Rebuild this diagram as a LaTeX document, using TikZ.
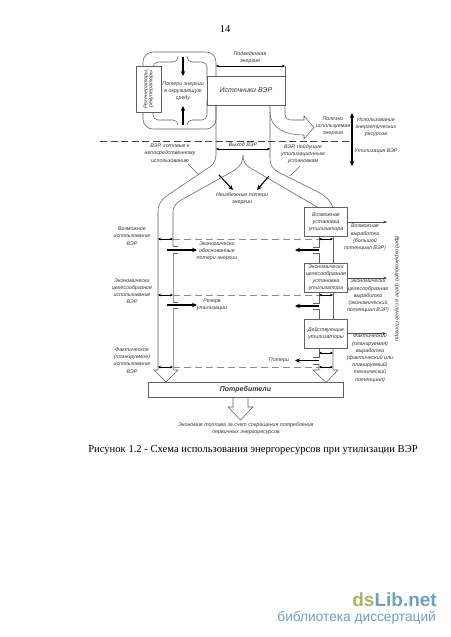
\documentclass[tikz,border=0pt]{standalone}
\usepackage{fontspec}
\setmainfont{Liberation Sans}
\newfontfamily\serifcap{Liberation Serif}
\usetikzlibrary{arrows.meta}
\definecolor{wmblue}{HTML}{6C9FC2}
\definecolor{wmgreen}{HTML}{A6B65C}
\tikzset{
  ln/.style={draw=black!62,line width=.55pt},
  grayln/.style={draw=black!40,line width=.8pt},
  dashlevel/.style={draw=black!45,line width=.6pt,dash pattern=on 7pt off 4pt},
  dashtop/.style={draw=black!75,line width=.6pt,dash pattern=on 7pt off 3.5pt},
  thickarrow/.style={draw=black,line width=1.1pt,-{Stealth[length=5pt,width=4.5pt]}},
  twoway/.style={draw=black,line width=.45pt,{Stealth[length=3pt,width=2.6pt]}-{Stealth[length=3pt,width=2.6pt]}},
  oneway/.style={draw=black!70,line width=.5pt,-{Stealth[length=3.5pt,width=3pt]}},
  lab/.style={font=\fontsize{5.3}{7.2}\selectfont\itshape,text=black!80,align=center,inner sep=0pt},
  boxn/.style={draw=black!62,fill=white,line width=.6pt,inner sep=0pt,outer sep=0pt,align=center,font=\fontsize{5.3}{7.2}\selectfont\itshape,text=black!80},
}
\begin{document}
\begin{tikzpicture}[x=1pt,y=-1pt]
\useasboundingbox (0,0) rectangle (450,637);
% named points
\coordinate (dl) at (100,141);
\coordinate (vtop) at (352,113);
\coordinate (vbot) at (352,166);
\coordinate (dr) at (352,141);
\coordinate (la) at (158,239);
\coordinate (lb) at (173,239);
\coordinate (lc) at (158,295);
\coordinate (ld) at (173,295);
\coordinate (le) at (158,367);
\coordinate (lf) at (173,367);
\coordinate (ra) at (319,239);
\coordinate (rb) at (333,239);
\coordinate (rc) at (319,295);
\coordinate (rd) at (333,295);
\coordinate (re) at (319,367);
\coordinate (rf) at (333,367);
\coordinate (rg) at (319,353);
\coordinate (rh) at (333,353);
% Outer and inner loops
\draw[ln,rounded corners=10pt] (216,76) -- (216,52) -- (143,52) -- (143,129) -- (216,129) -- (216,105);
\draw[ln,rounded corners=5pt] (178,56) -- (178,62) -- (153,62) -- (153,80);
\draw[ln,rounded corners=5pt] (187,56) -- (187,62) -- (207,62) -- (207,80);
\draw[ln,rounded corners=5pt] (178,125) -- (178,120) -- (153,120) -- (153,100);
\draw[ln,rounded corners=5pt] (187,125) -- (187,120) -- (207,120) -- (207,100);
% Boxes
\node[boxn,minimum width=78pt,minimum height=29pt,font=\fontsize{7}{8}\selectfont\itshape] (src) at (246,90.5) {Источники ВЭР};
\node[boxn,minimum width=25pt,minimum height=46pt] (reg) at (148.5,89) {\rotatebox{90}{\begin{tabular}{@{}c@{}}Регенераторы,\\[-2.2pt]рекуператоры\end{tabular}}};
\node[boxn,minimum width=43pt,minimum height=29pt] (box1) at (326,222) {Возможная\\установка\\утилизатора};
\node[boxn,minimum width=43pt,minimum height=29pt] (box2) at (326,277.5) {Экономически\\целесообразная\\установка\\утилизатора};
\node[boxn,minimum width=43pt,minimum height=29pt] (box3) at (326,333.5) {Действующие\\утилизаторы};
\node[boxn,minimum width=195pt,minimum height=15pt,font=\fontsize{7}{8}\selectfont\bfseries\itshape] (cons) at (245.5,389.5) {Потребители};
% loss arrows
\coordinate (a1) at (183,57); \coordinate (a2) at (183,76);
\coordinate (a3) at (183,125); \coordinate (a4) at (183,106);
\draw[thickarrow] (a1) -- (a2);
\draw[thickarrow] (a3) -- (a4);
% supplied energy
\coordinate (s1) at (216,66); \coordinate (s2) at (285,66);
\draw[twoway] (s1) -- (s2);
\draw[ln] (s2) -- (285,76);
% useful energy hollow arrow
\draw[ln] (285,105) -- (285,114) .. controls (285,119) and (288,120) .. (292,120) -- (304,120) -- (304,116) -- (314,127.5) -- (304,139) -- (304,135)
   .. controls (285,135) and (270,128) .. (270,112);
% main trunks
\draw[ln] (216,105) -- (216,155) .. controls (216,162) and (212,166) .. (205,170) -- (168,195) .. controls (161,200) and (158,204) .. (158,212) -- (158,370) -- (154,370) -- (166,382) -- (178,370) -- (173,370);
\draw[ln] (270,105) -- (270,158) .. controls (270,165) and (272,169) .. (280,173) -- (320,193) .. controls (327,197) and (331,202) .. (333,207.5);
\draw[ln] (243,155) .. controls (243,162) and (241,165) .. (235,170) -- (183,199) .. controls (176,203) and (173,206) .. (173,212) -- (173,246.5);
\draw[ln] (243,155) .. controls (243,162) and (245,165) .. (252,169) -- (318,207.5);
\draw[grayln] (173,253.5) -- (173,302.5);
\draw[grayln] (173,308.5) -- (173,370);
\draw[ln] (173,246.5) -- (178,246.5);
\draw[ln] (173,253.5) -- (178,253.5);
\draw[ln] (173,302.5) -- (178,302.5);
\draw[ln] (173,308.5) -- (178,308.5);
% leaders
\coordinate (k1) at (188,164); \coordinate (k2) at (199,175);
\coordinate (k3) at (290,176); \coordinate (k4) at (300,166);
\draw[ln] (k1) -- (k2);
\draw[ln] (k3) -- (k4);
% output of WER
\coordinate (v1) at (216,149); \coordinate (v2) at (270,149);
\draw[twoway] (v1) -- (v2);
% dashed top line and vertical arrow
\draw[dashtop] (dl) -- (dr);
\draw[draw=black,line width=1.1pt,{Stealth[length=5pt,width=4.5pt]}-{Stealth[length=5pt,width=4.5pt]}] (vtop) -- (vbot);
% unavoidable loss
\coordinate (u1) at (219,175); \coordinate (u2) at (233,190);
\coordinate (u3) at (269,176); \coordinate (u4) at (257,190);
\draw[thickarrow] (u1) -- (u2);
\draw[thickarrow] (u3) -- (u4);
% right column
\draw[ln] (rb) -- (box1.south -| rb);
\draw[ln] (rb) -- (box2.north -| rb);
\draw[ln] (rd) -- (box2.south -| rd);
\draw[ln] (rd) -- (box3.north -| rd);
\draw[ln] (box3.south -| rh) -- (333,370) -- (338,370) -- (326,382.5) -- (313,370) -- (319,370) -- (319,364.5) -- (313,364.5);
\draw[ln] (box3.south -| rg) -- (319,357) -- (313,357);
\draw[ln] (box1.south -| ra) -- (319,247) -- (313,247);
\draw[ln] (box2.north -| ra) -- (319,253) -- (313,253);
\draw[ln] (box2.south -| rc) -- (319,303) -- (313,303);
\draw[ln] (box3.north -| rc) -- (319,309) -- (313,309);
% dashed levels
\draw[dashlevel] (lb) -- (ra);
\draw[dashlevel] (ld) -- (rc);
\draw[dashlevel] (lf) -- (re);
% two-way
\draw[twoway] (la) -- (lb);
\draw[twoway] (lc) -- (ld);
\draw[twoway] (le) -- (lf);
\draw[twoway] (ra) -- (rb);
\draw[twoway] (rc) -- (rd);
\draw[twoway] (re) -- (rf);
\draw[twoway] (rg) -- (rh);
% thick arrows
\coordinate (t1) at (167,250); \coordinate (t2) at (197,250);
\coordinate (t3) at (167,305); \coordinate (t4) at (197,305);
\coordinate (t5) at (319,250); \coordinate (t6) at (295,250);
\coordinate (t7) at (319,306); \coordinate (t8) at (295,306);
\coordinate (t9) at (319,360.5); \coordinate (t10) at (295,360.5);
\draw[thickarrow] (t1) -- (t2);
\draw[thickarrow] (t3) -- (t4);
\draw[thickarrow] (t5) -- (t6);
\draw[thickarrow] (t7) -- (t8);
\draw[thickarrow] (t9) -- (t10);
% outputs
\coordinate (o1) at (387,222); \coordinate (o2) at (387,278); \coordinate (o3) at (386,333.5);
\draw[oneway] (box1.east) -- (o1);
\draw[oneway] (box2.east |- o2) -- (o2);
\draw[oneway] (box3.east) -- (o3);
% bottom hollow arrow
\draw[ln] (233,397) -- (233,407) -- (228,407) -- (240.5,420) -- (253,407) -- (248,407) -- (248,397);
% labels
\node[lab] (l1) at (250,57.5) {Подведенная\\энергия};
\node[lab] (l2) at (183,91.5) {Потери энергии\\в окружающую\\среду};
\node[lab] (l3) at (170,153) {ВЭР, готовые к\\непосредственному\\использованию};
\node[lab] (l4) at (243,145) {Выход ВЭР};
\node[lab] (l5) at (303,154) {ВЭР, пойдущие\\утилизационным\\установкам};
\node[lab] (l6) at (333,126) {Полезно\\используемая\\энергия};
\node[lab] (l7) at (376,127) {Использование\\энергетических\\ресурсов};
\node[lab] (l8) at (376,151) {Утилизация ВЭР};
\node[lab] (l9) at (242,198.5) {Неизбежные потери\\энергии};
\node[lab] (l10) at (132,236) {Возможное\\использование\\ВЭР};
\node[lab] (l11) at (217,251) {Экономически\\обоснованные\\потери энергии};
\node[lab] (l12) at (132,291) {Экономически\\целесообразное\\использование\\ВЭР};
\node[lab] (l13) at (212,304.5) {Резерв\\утилизации};
\node[lab] (l14) at (132,360.5) {Фактическое\\(планируемое)\\использование\\ВЭР};
\node[lab] (l15) at (365,237.5) {Возможная\\выработка\\(большой\\потенциал ВЭР)};
\node[lab] (l16) at (368,296) {Экономически\\целесообразная\\выработка\\(экономический\\потенциал ВЭР)};
\node[lab] (l17) at (370,358) {Фактический\\(планируемая)\\выработка\\(фактический или\\планируемый)\\технический\\потенциал)};
\node[lab] (l18) at (279,360.5) {Потери};
\node[lab,rotate=-90] (l19) at (397,289) {Вред окружающей среде в случае Потери};
\node[lab] (l20) at (246,429) {Экономия топлива за счет сокращения потребления\\первичных энергоресурсов};
% page texts
\node[inner sep=0pt,font=\fontsize{10.5}{12}\serifcap] (pg) at (225,29) {14};
\node[inner sep=0pt,font=\fontsize{10.6}{12}\serifcap] (cap) at (253,450) {Рисунок 1.2 - Схема использования энергоресурсов при утилизации ВЭР};
\node[inner sep=0pt,anchor=base east,font=\fontsize{19}{20}\selectfont\bfseries] (wm) at (437,606) {\textcolor{wmgreen}{ds}\textcolor{wmblue}{Lib.net}};
\node[inner sep=0pt,anchor=base east,text=wmblue,font=\fontsize{13.7}{15}\selectfont] (wm2) at (436,621) {библиотека диссертаций};
\end{tikzpicture}
\end{document}
